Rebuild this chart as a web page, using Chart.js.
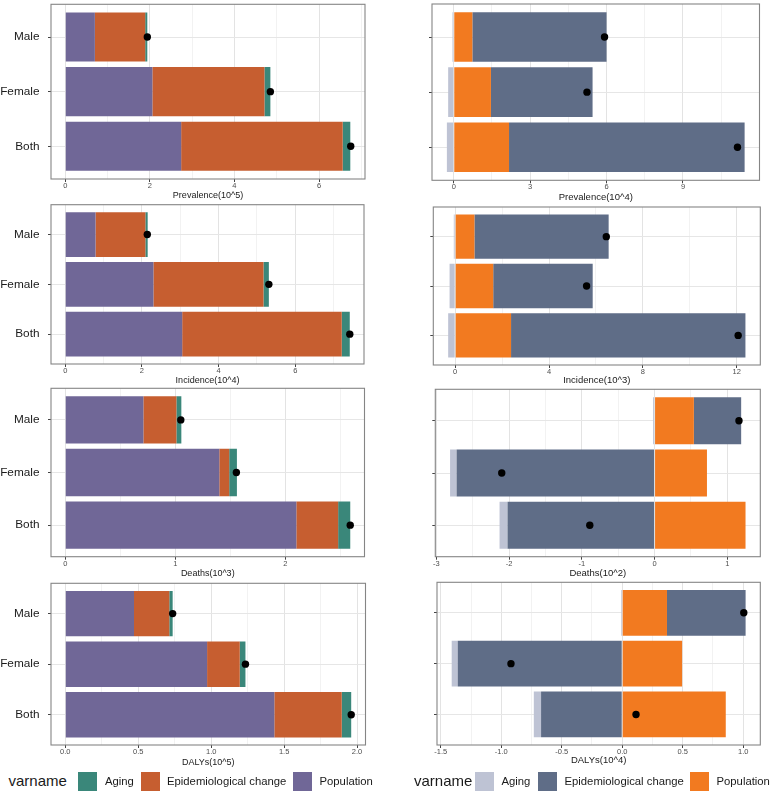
<!DOCTYPE html>
<html><head><meta charset="utf-8">
<script src="https://cdn.jsdelivr.net/npm/chart.js@4.4.1/dist/chart.umd.min.js"></script>
<style>
html,body{margin:0;padding:0;background:#fff;}
body{width:774px;height:797px;position:relative;overflow:hidden;font-family:"Liberation Sans",Arial,Helvetica,sans-serif;}
canvas{position:absolute;}
.lg{position:absolute;font-size:11.3px;color:#1a1a1a;white-space:nowrap;line-height:14px;top:774px;}
.lgt{position:absolute;font-size:15px;color:#1a1a1a;white-space:nowrap;line-height:18px;top:772px;}
.sq{position:absolute;width:19px;height:19px;top:772px;}
</style></head><body>
<script>
// ---------- data ----------
const categories = ['Male', 'Female', 'Both'];
const seriesNames = ['Population', 'Epidemiological change', 'Aging'];

// Prevalence (10^5) - left
const prev5_population = [0.70, 2.06, 2.74];
const prev5_epidemiological = [1.19, 2.65, 3.82];
const prev5_aging = [0.05, 0.14, 0.18];
const prev5_total = [1.94, 4.85, 6.75];
const prev5_ticks = [0, 2, 4, 6];
const prev5_tickLabels = ['0', '2', '4', '6'];

// Prevalence (10^4) - right
const prev4_population = [0.73, 1.46, 2.17];
const prev4_epidemiological = [5.27, 3.99, 9.25];
const prev4_aging = [-0.05, -0.22, -0.27];
const prev4_total = [5.92, 5.23, 11.14];
const prev4_ticks = [0, 3, 6, 9];
const prev4_tickLabels = ['0', '3', '6', '9'];

// Incidence (10^4) - left
const inc4_population = [0.79, 2.30, 3.05];
const inc4_epidemiological = [1.30, 2.87, 4.16];
const inc4_aging = [0.06, 0.14, 0.21];
const inc4_total = [2.14, 5.31, 7.42];
const inc4_ticks = [0, 2, 4, 6];
const inc4_tickLabels = ['0', '2', '4', '6'];

// Incidence (10^3) - right
const inc3_population = [0.82, 1.62, 2.38];
const inc3_epidemiological = [5.72, 4.24, 9.99];
const inc3_aging = [-0.06, -0.24, -0.30];
const inc3_total = [6.44, 5.60, 12.06];
const inc3_ticks = [0, 4, 8, 12];
const inc3_tickLabels = ['0', '4', '8', '12'];

// Deaths (10^3) - left
const death3_population = [0.71, 1.40, 2.10];
const death3_epidemiological = [0.30, 0.09, 0.38];
const death3_aging = [0.045, 0.07, 0.11];
const death3_total = [1.05, 1.555, 2.59];
const death3_ticks = [0, 1, 2];
const death3_tickLabels = ['0', '1', '2'];

// Deaths (10^2) - right
const death2_population = [0.54, 0.72, 1.25];
const death2_epidemiological = [0.65, -2.72, -2.02];
const death2_aging = [-0.02, -0.09, -0.11];
const death2_total = [1.16, -2.10, -0.89];
const death2_ticks = [-3, -2, -1, 0, 1];
const death2_tickLabels = ['-3', '-2', '-1', '0', '1'];

// DALYs (10^5) - left
const daly5_population = [0.471, 0.972, 1.433];
const daly5_epidemiological = [0.242, 0.224, 0.462];
const daly5_aging = [0.023, 0.039, 0.065];
const daly5_total = [0.736, 1.235, 1.96];
const daly5_ticks = [0, 0.5, 1, 1.5, 2];
const daly5_tickLabels = ['0.0', '0.5', '1.0', '1.5', '2.0'];

// DALYs (10^4) - right
const daly4_population = [0.37, 0.495, 0.856];
const daly4_epidemiological = [0.65, -1.36, -0.671];
const daly4_aging = [-0.01, -0.05, -0.06];
const daly4_total = [1.005, -0.92, 0.114];
const daly4_ticks = [-1.5, -1.0, -0.5, 0, 0.5, 1.0];
const daly4_tickLabels = ['-1.5', '-1.0', '-0.5', '0.0', '0.5', '1.0'];

// ---------- styles ----------
const leftColors = ['#706797', '#c65e30', '#3a877a'];   // Population, Epi, Aging
const rightColors = ['#f27a20', '#5f6d87', '#bec3d4'];
const FONT = '"Liberation Sans", Arial, Helvetica, sans-serif';

const borderPlugin = {
  id: 'panelBorder',
  afterDraw(chart) {
    const { ctx, chartArea: a } = chart;
    ctx.save();
    ctx.strokeStyle = '#858585';
    ctx.lineWidth = 1.1;
    ctx.strokeRect(a.left, a.top, a.right - a.left, a.bottom - a.top);
    ctx.restore();
  }
};

function drawPanel(p) {
  const colLeft = p.right ? 392 : 0;
  const cTop = Math.floor(p.boxTop) - 4;
  const titleSize = p.right ? 9.5 : 9;
  const tlh = titleSize * 1.2;
  const cBottom = Math.ceil(p.titleY + tlh / 2);
  const cRight = Math.ceil(p.boxRight) + 4;
  const W = cRight - colLeft, H = cBottom - cTop;
  const cv = document.createElement('canvas');
  cv.width = W; cv.height = H;
  cv.style.left = colLeft + 'px'; cv.style.top = cTop + 'px';
  cv.style.width = W + 'px'; cv.style.height = H + 'px';
  document.body.appendChild(cv);

  // extents (ggplot-like 5% expansion)
  let lo = 0, hi = 0;
  for (let i = 0; i < categories.length; i++) {
    let pos = 0, neg = 0;
    p.series.forEach(s => { if (s[i] > 0) pos += s[i]; else neg += s[i]; });
    lo = Math.min(lo, neg, p.total[i]);
    hi = Math.max(hi, pos, p.total[i]);
  }
  const ex = (hi - lo) * 0.05;
  const xmin = lo - ex, xmax = hi + ex;

  // major + minor ticks
  const step = p.ticks[1] - p.ticks[0];
  const half = step / 2;
  const tickVals = [];
  for (let v = Math.ceil(xmin / half - 1e-9) * half; v <= xmax + 1e-9; v += half) tickVals.push(Math.round(v * 1e6) / 1e6);
  const majorIdx = v => p.ticks.findIndex(m => Math.abs(m - v) < 1e-9);
  const colors = p.right ? rightColors : leftColors;

  const datasets = p.series.map((s, k) => ({
    type: 'bar',
    label: seriesNames[k],
    data: s.map((v, i) => ({ x: v, y: i })),
    backgroundColor: colors[k],
    borderWidth: 0,
    stack: 'bars',
    indexAxis: 'y',
    barPercentage: 0.9,
    categoryPercentage: 1.0,
    order: 0
  }));
  datasets.push({
    type: 'scatter',
    label: 'Total',
    data: p.total.map((v, i) => ({ x: v, y: i })),
    pointRadius: 3.7,
    pointBackgroundColor: '#000',
    pointBorderColor: '#000',
    pointBorderWidth: 0,
    stack: 'dots',
    indexAxis: 'y',
    order: -1
  });

  new Chart(cv, {
    type: 'bar',
    data: { datasets },
    options: {
      indexAxis: 'y',
      responsive: false,
      animation: false,
      devicePixelRatio: 1,
      layout: { padding: { top: p.boxTop - cTop, right: cRight - p.boxRight, left: 0, bottom: 0 } },
      plugins: { legend: { display: false }, tooltip: { enabled: false } },
      scales: {
        x: {
          type: 'linear', stacked: true, min: xmin, max: xmax,
          afterBuildTicks: s => { s.ticks = tickVals.map(v => ({ value: v, major: majorIdx(v) >= 0 })); },
          afterFit: s => { s.height = cBottom - p.boxBottom; s.paddingLeft = 0; s.paddingRight = 0; },
          grid: {
            color: c => (c.tick && c.tick.major) ? '#e3e3e3' : '#efefef',
            lineWidth: c => (c.tick && c.tick.major) ? 1 : 0.8,
            tickLength: 3,
            tickColor: c => (c.tick && c.tick.major) ? '#444' : 'rgba(0,0,0,0)',
            tickWidth: 1
          },
          border: { display: false },
          ticks: {
            autoSkip: false, maxRotation: 0, padding: 0, color: '#4d4d4d',
            font: { family: FONT, size: 7.5, lineHeight: 1 },
            callback: v => { const k = majorIdx(v); return k >= 0 ? p.tickLabels[k] : ''; }
          },
          title: {
            display: true, text: p.title, color: '#1a1a1a',
            font: { family: FONT, size: titleSize, lineHeight: 1.2 },
            padding: { top: 0, bottom: Math.max(0, cBottom - p.titleY - tlh / 2) }
          }
        },
        y: {
          type: 'linear', reverse: true, min: -0.6, max: 2.6, offset: false,
          afterBuildTicks: s => { s.ticks = categories.map((c, i) => ({ value: i })); },
          afterFit: s => { s.width = p.boxLeft - colLeft; s.paddingTop = 0; s.paddingBottom = 0; },
          grid: { offset: false, color: '#e6e6e6', lineWidth: 1, tickLength: 3, tickColor: '#444', tickWidth: 1 },
          border: { display: false },
          ticks: {
            padding: 8.5, color: '#1a1a1a',
            font: { family: FONT, size: 11.8 },
            callback: v => p.right ? '' : categories[v]
          }
        }
      }
    },
    plugins: [borderPlugin]
  });
}

drawPanel({ right: false, boxLeft: 51, boxRight: 365, boxTop: 4.3, boxBottom: 179, titleY: 196, title: 'Prevalence(10^5)',
  series: [prev5_population, prev5_epidemiological, prev5_aging], total: prev5_total, ticks: prev5_ticks, tickLabels: prev5_tickLabels });
drawPanel({ right: true, boxLeft: 432, boxRight: 759.5, boxTop: 4, boxBottom: 180.3, titleY: 197.3, title: 'Prevalence(10^4)',
  series: [prev4_population, prev4_epidemiological, prev4_aging], total: prev4_total, ticks: prev4_ticks, tickLabels: prev4_tickLabels });
drawPanel({ right: false, boxLeft: 51, boxRight: 364, boxTop: 204.7, boxBottom: 364, titleY: 380.7, title: 'Incidence(10^4)',
  series: [inc4_population, inc4_epidemiological, inc4_aging], total: inc4_total, ticks: inc4_ticks, tickLabels: inc4_tickLabels });
drawPanel({ right: true, boxLeft: 433.3, boxRight: 760.3, boxTop: 207, boxBottom: 365, titleY: 380.7, title: 'Incidence(10^3)',
  series: [inc3_population, inc3_epidemiological, inc3_aging], total: inc3_total, ticks: inc3_ticks, tickLabels: inc3_tickLabels });
drawPanel({ right: false, boxLeft: 51, boxRight: 364.5, boxTop: 388.3, boxBottom: 556.7, titleY: 574, title: 'Deaths(10^3)',
  series: [death3_population, death3_epidemiological, death3_aging], total: death3_total, ticks: death3_ticks, tickLabels: death3_tickLabels });
drawPanel({ right: true, boxLeft: 435.3, boxRight: 760.3, boxTop: 389.3, boxBottom: 556.7, titleY: 573, title: 'Deaths(10^2)',
  series: [death2_population, death2_epidemiological, death2_aging], total: death2_total, ticks: death2_ticks, tickLabels: death2_tickLabels });
drawPanel({ right: false, boxLeft: 51, boxRight: 365.5, boxTop: 583.3, boxBottom: 745, titleY: 762.3, title: 'DALYs(10^5)',
  series: [daly5_population, daly5_epidemiological, daly5_aging], total: daly5_total, ticks: daly5_ticks, tickLabels: daly5_tickLabels });
drawPanel({ right: true, boxLeft: 437, boxRight: 760.3, boxTop: 582.3, boxBottom: 745, titleY: 760, title: 'DALYs(10^4)',
  series: [daly4_population, daly4_epidemiological, daly4_aging], total: daly4_total, ticks: daly4_ticks, tickLabels: daly4_tickLabels });

// ---------- legends ----------
const legendOrder = ['Aging', 'Epidemiological change', 'Population'];
function legend(x0, colorsInOrder, sqX, txtX) {
  const t = document.createElement('div');
  t.className = 'lgt'; t.style.left = x0 + 'px'; t.textContent = 'varname';
  document.body.appendChild(t);
  legendOrder.forEach((name, k) => {
    const sq = document.createElement('div');
    sq.className = 'sq'; sq.style.left = sqX[k] + 'px'; sq.style.background = colorsInOrder[k];
    document.body.appendChild(sq);
    const tx = document.createElement('div');
    tx.className = 'lg'; tx.style.left = txtX[k] + 'px'; tx.textContent = name;
    document.body.appendChild(tx);
  });
}
legend(8.5, [leftColors[2], leftColors[1], leftColors[0]], [78, 141, 293], [105, 167, 319.5]);
legend(414, [rightColors[2], rightColors[1], rightColors[0]], [474.5, 538, 689.5], [501.5, 564.5, 716.5]);
</script>
</body></html>
